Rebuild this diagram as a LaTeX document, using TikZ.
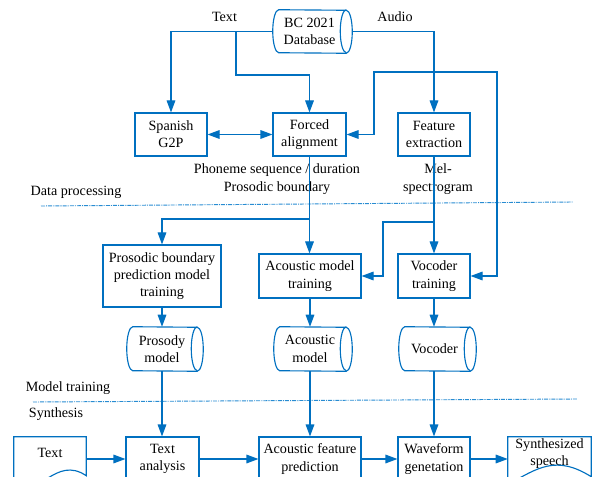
\documentclass[tikz,border=0pt]{standalone}
\usepackage{fontspec}
\setmainfont{Liberation Serif}
\usetikzlibrary{arrows.meta,calc}
\definecolor{lblue}{RGB}{0,112,192}
\definecolor{dblue}{RGB}{40,140,210}
\begin{document}
\begin{tikzpicture}[x=0.75pt,y=0.75pt,
  ln/.style={draw=lblue,line width=0.85pt},
  arr/.style={ln,-{Triangle[length=9pt,width=6.5pt]}},
  darr/.style={ln,{Triangle[length=9pt,width=6.5pt]}-{Triangle[length=9pt,width=6.5pt]}},
  sep/.style={draw=dblue,line width=0.7pt,dash pattern=on 3pt off 0.8pt on 0.8pt off 0.8pt},
  txt/.style={font=\fontsize{10.6}{13}\selectfont,align=center,inner sep=0pt},
  box/.style={txt,ln,minimum height=43*0.75pt},
  tnode/.style={txt,minimum height=43*0.75pt}]
\useasboundingbox (0,0) rectangle (592,-477);
\clip (0,0) rectangle (592,-477);
% database cylinder
\node[tnode,minimum width=73*0.75pt] (db) at (309.5,-31.5) {BC 2021\\Database};
\draw[ln] ([xshift=4.5pt]db.north west) arc[start angle=90,end angle=270,x radius=4.5pt,y radius=16.125pt] -- (db.south east) arc[start angle=-90,end angle=90,x radius=4.5pt,y radius=16.125pt] -- cycle;
\draw[ln] (db.north east) arc[start angle=90,end angle=270,x radius=4.5pt,y radius=16.125pt];
% top row boxes
\node[box,minimum width=72*0.75pt] (g2p) at (171,-134.5) {Spanish\\G2P};
\node[box,minimum width=73*0.75pt] (fa) at (309.5,-134.5) {Forced\\alignment};
\node[box,minimum width=72*0.75pt] (fe) at (434,-134.5) {Feature\\extraction};
% labels
\node[txt] (ltext) at (224.5,-17) {Text};
\node[txt] (laudio) at (395,-17) {Audio};
\node[txt] (lphon) at (277,-179) {Phoneme sequence / duration\\Prosodic boundary};
\node[txt] (lmel) at (438,-179) {Mel-\\spectrogram};
\node[txt] (ldp) at (76,-192) {Data processing};
\node[txt] (lmt) at (68,-388) {Model training};
\node[txt] (lsy) at (56,-414) {Synthesis};
% separators
\coordinate (s1a) at (41,-206);
\coordinate (s1b) at (573,-202);
\draw[sep] (s1a) -- (s1b);
\coordinate (s2a) at (33,-402);
\coordinate (s2b) at (577,-399);
\draw[sep] (s2a) -- (s2b);
% training row
\node[box,minimum width=118*0.75pt,minimum height=62*0.75pt] (pb) at (162,-276) {Prosodic boundary\\prediction model\\training};
\node[box,minimum width=102*0.75pt,minimum height=44*0.75pt] (amt) at (310,-276) {Acoustic model\\training};
\node[box,minimum width=72*0.75pt,minimum height=44*0.75pt] (vt) at (434,-276) {Vocoder\\training};
% model cylinders
\node[tnode,minimum width=70*0.75pt,minimum height=44*0.75pt] (pm) at (162,-349) {Prosody\\model};
\node[tnode,minimum width=72*0.75pt,minimum height=44*0.75pt] (am) at (310,-349) {Acoustic\\model};
\node[tnode,minimum width=71*0.75pt,minimum height=44*0.75pt] (voc) at (434.5,-349) {Vocoder};
\foreach \n in {pm,am,voc}{
  \draw[ln] ([xshift=4.5pt]\n.north west) arc[start angle=90,end angle=270,x radius=4.5pt,y radius=16.5pt] -- (\n.south east) arc[start angle=-90,end angle=90,x radius=4.5pt,y radius=16.5pt] -- cycle;
  \draw[ln] (\n.north east) arc[start angle=90,end angle=270,x radius=4.5pt,y radius=16.5pt];
}
% synthesis row
\node[tnode,minimum width=72*0.75pt,minimum height=32*0.75pt] (td) at (50,-453) {Text};
\draw[ln] ($(td.north west)+(0,-47)$) -- (td.north west) -- (td.north east) -- ++(0,-39) .. controls +(-31,21) and +(26,-16) .. ($(td.north west)+(0,-47)$);
\node[box,minimum width=73*0.75pt,minimum height=44*0.75pt] (ta) at (162.5,-459) {Text\\analysis};
\node[box,minimum width=102*0.75pt,minimum height=44*0.75pt] (afp) at (310,-459) {Acoustic feature\\prediction};
\node[box,minimum width=72*0.75pt,minimum height=44*0.75pt] (wg) at (434,-459) {Waveform\\genetation};
\node[tnode,minimum width=83*0.75pt,minimum height=33*0.75pt] (ss) at (549.5,-453.5) {Synthesized\\speech};
\draw[ln] ($(ss.north west)+(0,-48)$) -- (ss.north west) -- (ss.north east) -- ++(0,-40) .. controls +(-35,22) and +(30,17) .. ($(ss.north west)+(0,-48)$);
% connectors: data processing
\coordinate (j1) at (236,-31.5);
\coordinate (j2) at (434,-72);
\coordinate (j3) at (309.5,-219);
\coordinate (j4) at (434,-222);
\draw[arr] (db.west) -| (g2p.north);
\draw[arr] (j1) -- ++(0,-43.5) -| (fa.north);
\draw[arr] ([xshift=4.5pt]db.east) -| (fe.north);
\draw[arr] (j2) -- (374,-72) |- (fa.east);
\draw[arr] (j2) -- (497,-72) |- (vt.east);
\draw[darr] (g2p.east) -- (fa.west);
\draw[arr] (fa.south) -- (fa.south |- amt.north);
\draw[arr] (j3) -| (pb.north);
\draw[arr] (fe.south) -- (vt.north);
\draw[arr] (j4) -- (383,-222) |- (amt.east);
% model training
\draw[arr] (pb.south) -- (pm.north);
\draw[arr] (amt.south) -- (am.north);
\draw[arr] (vt.south) -- (vt.south |- voc.north);
% synthesis
\draw[arr] (pm.south) -- (pm.south |- ta.north);
\draw[arr] (am.south) -- (am.south |- afp.north);
\draw[arr] (wg.north |- voc.south) -- (wg.north);
\draw[arr] (td.east |- ta.west) -- (ta.west);
\draw[arr] (ta.east) -- (afp.west);
\draw[arr] (afp.east) -- (wg.west);
\draw[arr] (wg.east) -- (wg.east -| ss.west);
\end{tikzpicture}
\end{document}
